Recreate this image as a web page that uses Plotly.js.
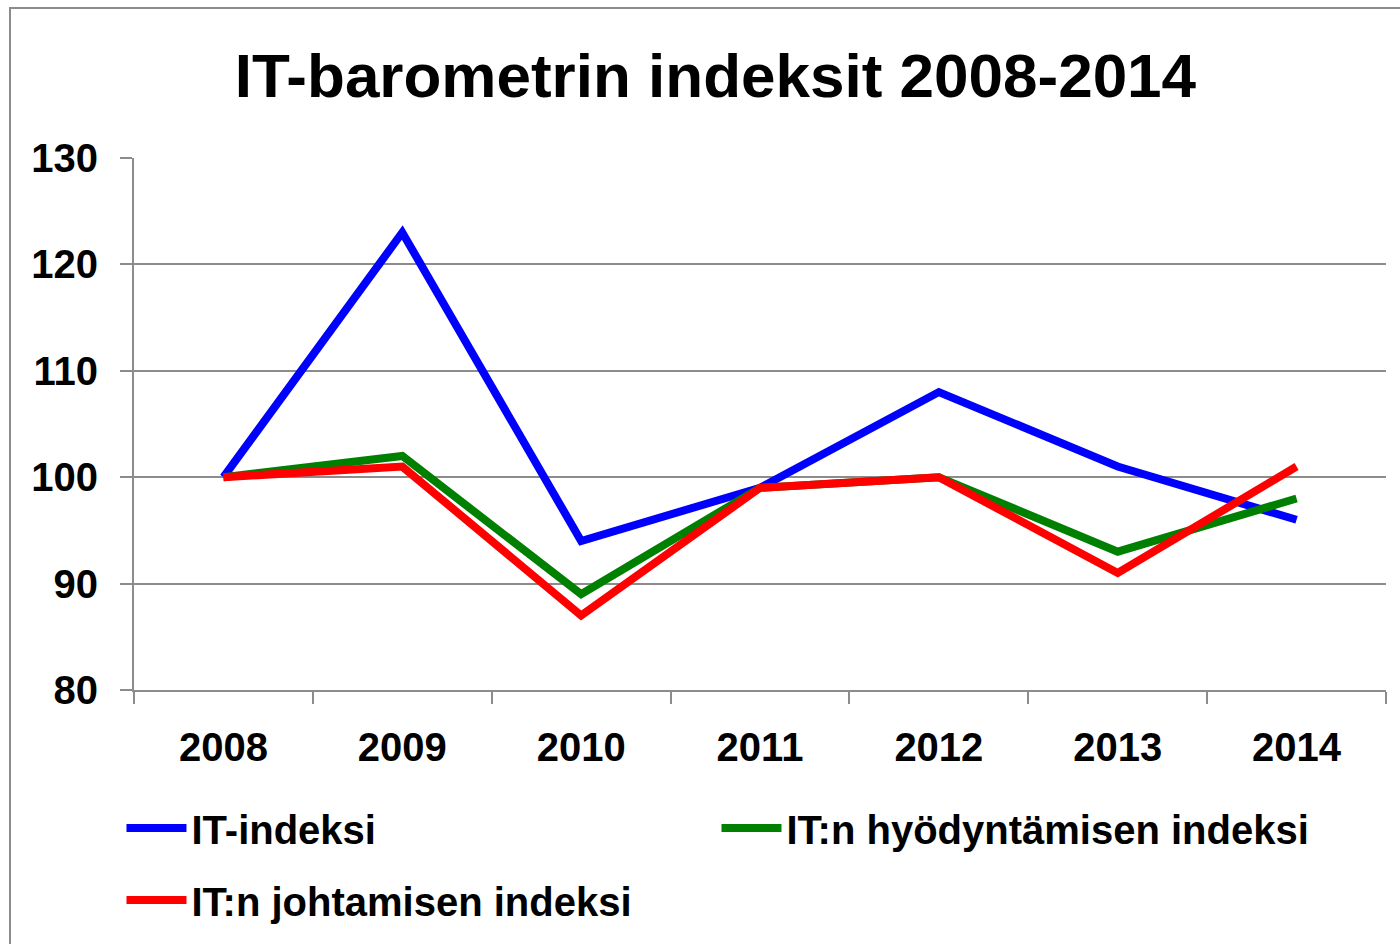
<!DOCTYPE html>
<html>
<head>
<meta charset="utf-8">
<script src="https://cdn.plot.ly/plotly-3.0.1.min.js"></script>
<style>html,body{margin:0;padding:0;background:#fff;}#chart{width:1400px;height:944px;}</style>
</head>
<body>
<div id="chart"></div>
<script>
const years = ["2008", "2009", "2010", "2011", "2012", "2013", "2014"];
const itIndeksi = [100, 123, 94, 99, 108, 101, 96];
const hyodyntaminen = [100, 102, 89, 99, 100, 93, 98];
const johtaminen = [100, 101, 87, 99, 100, 91, 101];
const seriesNames = ["IT-indeksi", "IT:n hyödyntämisen indeksi", "IT:n johtamisen indeksi"];

const FONT = "Liberation Sans, Arial, sans-serif";
const GRID = "#8c8c8c";

const traces = [
  {x: years, y: itIndeksi, name: seriesNames[0], type: "scatter", mode: "lines",
   line: {color: "#0000ff", width: 8}, legend: "legend"},
  {x: years, y: hyodyntaminen, name: seriesNames[1], type: "scatter", mode: "lines",
   line: {color: "#008000", width: 8}, legend: "legend"},
  {x: years, y: johtaminen, name: seriesNames[2], type: "scatter", mode: "lines",
   line: {color: "#ff0000", width: 8}, legend: "legend2"}
];

const legendCommon = {
  orientation: "h", xanchor: "left", yanchor: "middle",
  entrywidth: 520, entrywidthmode: "pixels", itemwidth: 60,
  font: {family: FONT, size: 40, weight: "bold"}, tracegroupgap: 0,
  bgcolor: "rgba(0,0,0,0)"
};

const layout = {
  width: 1400, height: 944,
  margin: {l: 134, r: 14, t: 158, b: 254},
  paper_bgcolor: "#ffffff", plot_bgcolor: "#ffffff",
  font: {family: FONT, color: "#000", size: 40, weight: "bold"},
  title: {text: "<b>IT-barometrin indeksit 2008-2014</b>", font: {family: FONT, size: 62, color: "#000"},
          x: 0.511, xanchor: "center", y: 0.92, yanchor: "middle"},
  xaxis: {type: "category", range: [-0.5, 6.5], tickson: "boundaries", ticks: "outside", ticklen: 12, tickwidth: 2,
          tickcolor: GRID, showline: true, linecolor: GRID, linewidth: 2, showgrid: false,
          ticklabelstandoff: 21, tickfont: {family: FONT, size: 40, weight: "bold"}, fixedrange: true},
  yaxis: {range: [80, 130], dtick: 10, ticks: "outside", ticklen: 12, tickwidth: 2, tickcolor: GRID,
          showline: true, linecolor: GRID, linewidth: 2, gridcolor: GRID, gridwidth: 2, zeroline: false,
          ticklabelstandoff: 14, tickfont: {family: FONT, size: 40, weight: "bold"}, fixedrange: true},
  showlegend: true,
  legend: Object.assign({}, legendCommon, {x: -0.010, y: (690 - 828) / 532}),
  legend2: Object.assign({}, legendCommon, {x: -0.010, y: (690 - 900) / 532}),
  shapes: [
    {type: "rect", xref: "paper", yref: "paper",
     x0: (10 - 134) / 1252, x1: (1420 - 134) / 1252,
     y0: (690 - 960) / 532, y1: (690 - 8) / 532,
     line: {color: "#8c8c8c", width: 2}, fillcolor: "rgba(0,0,0,0)", layer: "below"}
  ]
};

Plotly.newPlot("chart", traces, layout, {displayModeBar: false, staticPlot: true});
</script>
</body>
</html>
